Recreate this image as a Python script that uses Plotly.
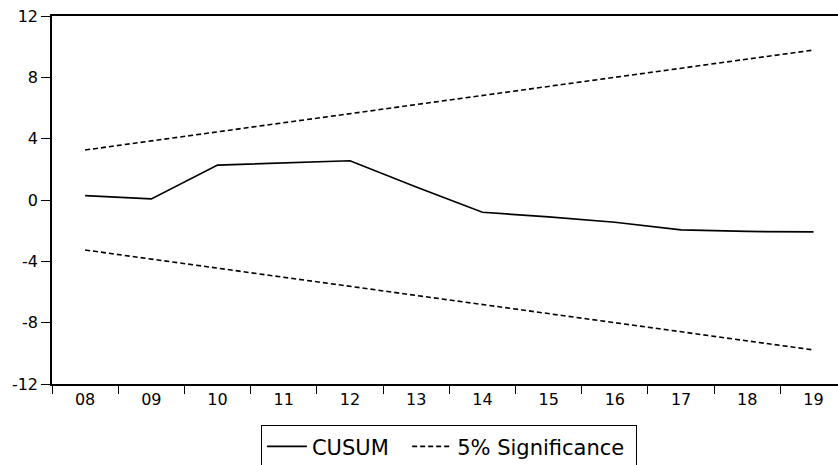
import plotly.graph_objects as go

years = ["08", "09", "10", "11", "12", "13", "14", "15", "16", "17", "18", "19"]
cusum = [0.28, 0.07, 2.28, 2.42, 2.56, 0.85, -0.80, -1.10, -1.45, -1.95, -2.05, -2.08]
upper = [3.26, 3.85, 4.45, 5.04, 5.63, 6.22, 6.82, 7.41, 8.00, 8.60, 9.19, 9.78]
lower = [-3.26, -3.85, -4.45, -5.04, -5.63, -6.22, -6.82, -7.41, -8.00, -8.60, -9.19, -9.78]

ff = "DejaVu Sans, Arial, sans-serif"
tickfont = dict(family=ff, size=16, color="black")

fig = go.Figure()
fig.add_trace(go.Scatter(x=years, y=cusum, mode="lines", name="CUSUM\u00a0\u00a0",
                         line=dict(color="black", width=1.7)))
fig.add_trace(go.Scatter(x=years, y=upper, mode="lines", name="5% Significance\u00a0",
                         line=dict(color="black", width=1.6, dash="5px,3px")))
fig.add_trace(go.Scatter(x=years, y=lower, mode="lines", name="5% Significance",
                         showlegend=False,
                         line=dict(color="black", width=1.6, dash="5px,3px")))

fig.update_layout(
    width=838, height=465,
    margin=dict(l=52, r=0, t=16, b=81, autoexpand=False),
    paper_bgcolor="white", plot_bgcolor="white",
    font=dict(family=ff, size=16, color="black"),
    showlegend=True,
    legend=dict(orientation="h", x=0.505, xanchor="center", y=-0.112, yanchor="top",
                bordercolor="black", borderwidth=1, bgcolor="white",
                font=dict(family=ff, size=21, color="black"),
                itemwidth=40, tracegroupgap=0),
    xaxis=dict(type="category", range=[-0.5, 11.37], tickson="boundaries",
               ticks="outside", ticklen=8, tickcolor="black", tickwidth=1,
               showline=True, linecolor="black", linewidth=1.5, mirror=True,
               showgrid=False, zeroline=False, tickfont=tickfont, automargin=False),
    yaxis=dict(range=[-12, 12], tickvals=[-12, -8, -4, 0, 4, 8, 12],
               ticktext=["-12", "-8", "-4", "0", "4", "8", "12"],
               ticks="outside", ticklen=9, tickcolor="black", tickwidth=1,
               showline=True, linecolor="black", linewidth=1.5,
               showgrid=False, zeroline=False, tickfont=tickfont, automargin=False),
)

fig.write_html(
    "out.html",
    config={"displayModeBar": False},
    post_script="document.body.style.margin='0';document.body.style.overflow='hidden';",
)
